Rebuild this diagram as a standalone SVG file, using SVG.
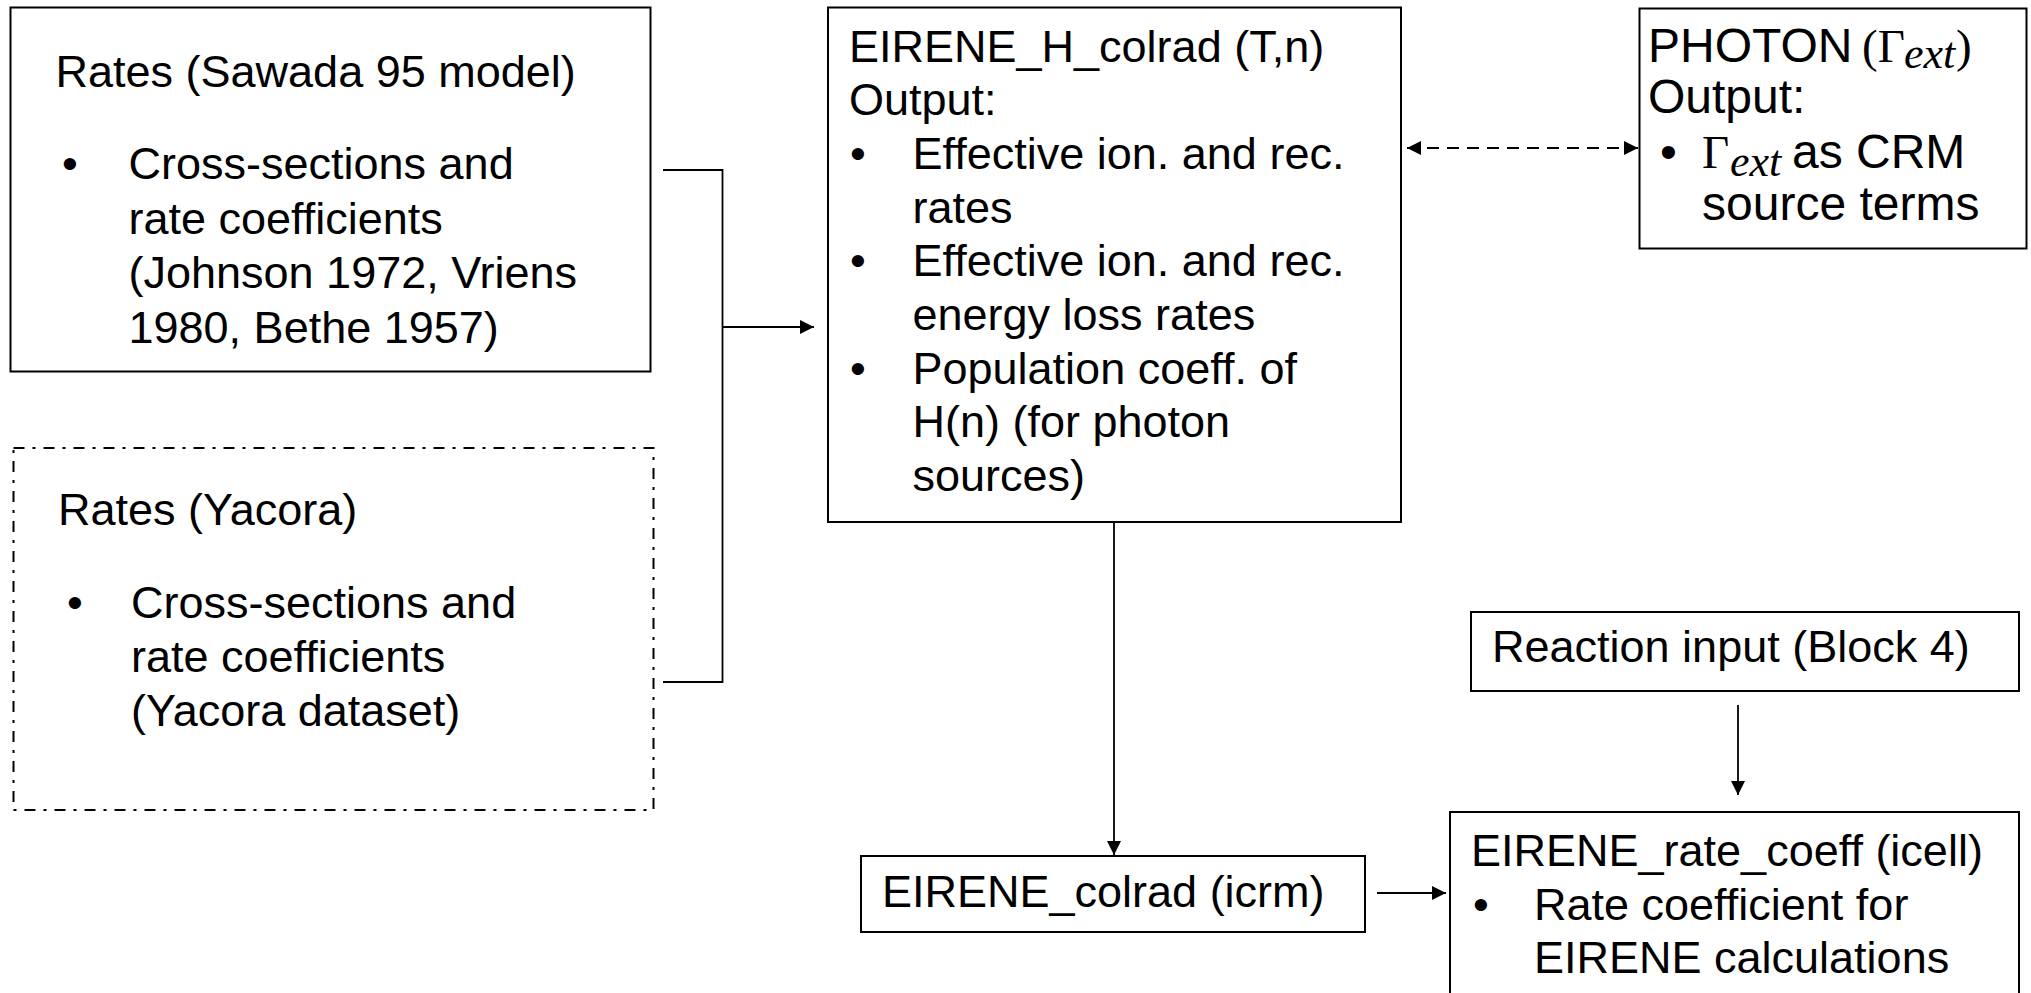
<svg xmlns="http://www.w3.org/2000/svg" width="2031" height="993" viewBox="0 0 2031 993">
<style>
.box{fill:#fff;stroke:#000;stroke-width:2}
.dd{fill:#fff;stroke:#000;stroke-width:2;stroke-dasharray:11 8 3 8}
.t{font-family:"Liberation Sans",Arial,sans-serif;font-size:45px;fill:#000}
.tp{font-family:"Liberation Sans",Arial,sans-serif;font-size:48px;fill:#000}
.m{font-family:"Liberation Serif","Times New Roman",serif;font-size:47px;font-style:normal}
.mi{font-family:"Liberation Serif","Times New Roman",serif;font-style:italic;font-size:44px}
.c{fill:none;stroke:#000;stroke-width:1.8}
.dash{fill:none;stroke:#000;stroke-width:1.8;stroke-dasharray:12 8}
</style>
<defs>
<marker id="ah" viewBox="0 0 14 14" refX="14" refY="7" markerWidth="14" markerHeight="14" markerUnits="userSpaceOnUse" orient="auto-start-reverse">
<path d="M0,0 L14,7 L0,14 z" fill="#000"/>
</marker>
</defs>
<rect width="2031" height="993" fill="#fff"/>

<g id="connectors">
<path class="c" d="M663,170 H722.5 V682 H663"/>
<path class="c" d="M722.5,327 H814" marker-end="url(#ah)"/>
<path class="dash" d="M1407,148 H1638" marker-start="url(#ah)" marker-end="url(#ah)"/>
<path class="c" d="M1114,522 V855" marker-end="url(#ah)"/>
<path class="c" d="M1377,893 H1446" marker-end="url(#ah)"/>
<path class="c" d="M1738,705 V795" marker-end="url(#ah)"/>
</g>

<g id="sawada">
<rect class="box" x="10.5" y="7.5" width="640" height="364"/>
<text class="t" x="55.5" y="87">Rates (Sawada 95 model)</text>
<text class="t" x="62" y="179">•</text>
<text class="t" x="128.5" y="179">Cross-sections and</text>
<text class="t" x="128.5" y="233.5">rate coefficients</text>
<text class="t" x="128.5" y="288">(Johnson 1972, Vriens</text>
<text class="t" x="128.5" y="342.5">1980, Bethe 1957)</text>
</g>

<g id="yacora">
<rect class="dd" x="13.5" y="448" width="640" height="362"/>
<text class="t" x="58" y="525">Rates (Yacora)</text>
<text class="t" x="67" y="618">•</text>
<text class="t" x="131" y="618">Cross-sections and</text>
<text class="t" x="131" y="672">rate coefficients</text>
<text class="t" x="131" y="726">(Yacora dataset)</text>
</g>

<g id="h_colrad">
<rect class="box" x="828" y="7.5" width="573" height="514.5"/>
<text class="t" x="849" y="61.5">EIRENE_H_colrad (T,n)</text>
<text class="t" x="849" y="115.2">Output:</text>
<text class="t" x="850" y="168.9">•</text>
<text class="t" x="912.5" y="168.9">Effective ion. and rec.</text>
<text class="t" x="912.5" y="222.6">rates</text>
<text class="t" x="850" y="276.3">•</text>
<text class="t" x="912.5" y="276.3">Effective ion. and rec.</text>
<text class="t" x="912.5" y="330">energy loss rates</text>
<text class="t" x="850" y="383.7">•</text>
<text class="t" x="912.5" y="383.7">Population coeff. of</text>
<text class="t" x="912.5" y="437.4">H(n) (for photon</text>
<text class="t" x="912.5" y="491">sources)</text>
</g>

<g id="photon">
<rect class="box" x="1639.5" y="8.5" width="387" height="240"/>
<text class="tp" x="1648" y="62">PHOTON <tspan class="m" x="1862">(Γ</tspan><tspan class="mi" x="1904" dy="6">ext</tspan><tspan class="m" x="1956" dy="-6">)</tspan></text>
<text class="tp" x="1648" y="113">Output:</text>
<text class="tp" x="1660" y="168">•</text>
<text class="tp" x="1702" y="168"><tspan class="m">Γ</tspan><tspan class="mi" x="1730" dy="8">ext</tspan><tspan x="1792" dy="-8">as CRM</tspan><tspan x="1702" y="220">source terms</tspan></text>
</g>

<g id="reaction_input">
<rect class="box" x="1471" y="612" width="548" height="79"/>
<text class="t" x="1492" y="662">Reaction input (Block 4)</text>
</g>

<g id="colrad">
<rect class="box" x="861" y="856" width="504" height="76"/>
<text class="t" x="882" y="907">EIRENE_colrad (icrm)</text>
</g>

<g id="rate_coeff">
<rect class="box" x="1450" y="812" width="569" height="190"/>
<text class="t" x="1471" y="866">EIRENE_rate_coeff (icell)</text>
<text class="t" x="1473" y="919.5">•</text>
<text class="t" x="1534" y="919.5">Rate coefficient for</text>
<text class="t" x="1534" y="973">EIRENE calculations</text>
</g>
</svg>
